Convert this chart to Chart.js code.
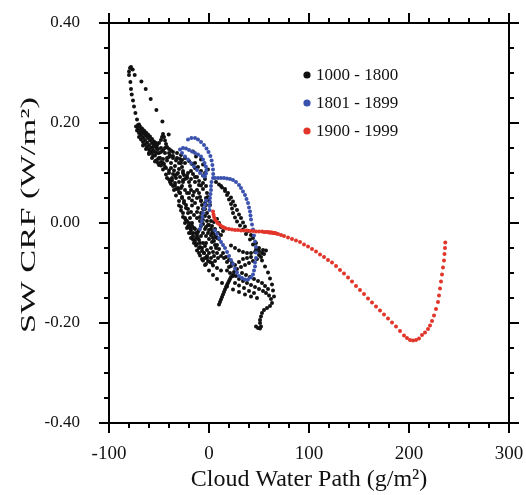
<!DOCTYPE html>
<html>
<head>
<meta charset="utf-8">
<script src="https://cdn.jsdelivr.net/npm/chart.js@4/dist/chart.umd.min.js"></script>
<style>
  html, body { margin: 0; padding: 0; background: #ffffff; }
  #wrap { width: 526px; height: 495px; }
</style>
</head>
<body>
<div id="wrap"><canvas id="crfChart"></canvas></div>
<script>
// Series labels
const seriesLabels = ['1000 - 1800', '1801 - 1899', '1900 - 1999'];

// Axis tick labels
const xTicks = [-100, 0, 100, 200, 300];
const yTicks = [-0.40, -0.20, 0.00, 0.20, 0.40];

// 1000-1800 (Cloud Water Path, SW CRF)
const blackPts = [
  // top loop, left side
  [-78, 0.312], [-79, 0.31], [-80, 0.303], [-80, 0.296], [-78.6, 0.282], [-78, 0.268], [-77.3, 0.257],
  [-76, 0.245], [-75, 0.233], [-73.6, 0.22], [-72, 0.207], [-70, 0.197],
  // top loop, right side
  [-76.3, 0.307], [-74.3, 0.296], [-67.6, 0.283], [-63.3, 0.268], [-58.3, 0.248], [-52.6, 0.226],
  [-46.6, 0.203], [-40.3, 0.177],
  // dense band
  [-73, 0.193], [-71, 0.19], [-69, 0.186], [-67, 0.182], [-65, 0.178], [-63, 0.174], [-61, 0.17],
  [-59, 0.165], [-57, 0.16], [-55, 0.156], [-53, 0.152], [-51, 0.148],
  [-71, 0.196], [-69, 0.193], [-67, 0.189], [-65, 0.185], [-63, 0.181], [-61, 0.177], [-59, 0.173],
  [-57, 0.168], [-55, 0.163], [-53, 0.16],
  [-72, 0.185], [-70, 0.18], [-68, 0.176], [-66, 0.171], [-64, 0.166], [-62, 0.161], [-60, 0.156],
  [-58, 0.151], [-56, 0.146], [-54, 0.142],
  [-70, 0.172], [-68, 0.167], [-66, 0.162], [-64, 0.157], [-62, 0.152], [-60, 0.147], [-58, 0.142],
  [-66, 0.155], [-63, 0.148], [-60, 0.14], [-57, 0.14], [-54, 0.135], [-51, 0.128], [-48, 0.122],
  // star
  [-52, 0.155], [-50, 0.16], [-48, 0.166], [-47, 0.172], [-46, 0.178], [-45, 0.172], [-44, 0.165],
  [-43, 0.158], [-42, 0.152], [-40, 0.148], [-38, 0.145], [-44, 0.15], [-46, 0.145], [-48, 0.142], [-50, 0.14],
  [-56, 0.152], [-52, 0.148], [-48, 0.15], [-44, 0.14], [-40, 0.132], [-36, 0.134], [-32, 0.13], [-29, 0.128],
  // outer left edge
  [-59, 0.143], [-56, 0.134], [-53, 0.125], [-50, 0.116], [-46, 0.107], [-43, 0.097], [-40, 0.087],
  [-38, 0.078], [-35, 0.066], [-33, 0.055], [-30, 0.044], [-28, 0.032], [-26, 0.02], [-23.5, 0.007],
  [-21, -0.007], [-18.5, -0.02], [-16, -0.033], [-13, -0.045], [-10, -0.06], [-7, -0.072], [-4, -0.084],
  [0, -0.095], [4, -0.104], [8, -0.112], [13, -0.12], [18, -0.127], [24, -0.133], [30, -0.138],
  [36, -0.143], [42, -0.147], [48, -0.15],
  // inner edge
  [-52, 0.14], [-49, 0.13], [-46, 0.12], [-43, 0.11], [-40, 0.1], [-37, 0.09], [-34, 0.08], [-31, 0.07],
  [-29, 0.06], [-27, 0.05], [-25, 0.04], [-23, 0.03], [-21, 0.02], [-19, 0.01], [-17, 0.0], [-15, -0.01],
  [-13, -0.02], [-11, -0.03], [-9, -0.04], [-7, -0.05], [-5, -0.06], [-2, -0.07], [1, -0.078],
  [4, -0.085], [8, -0.09], [12, -0.095],
  // middle cluster
  [-40, 0.14], [-36, 0.142], [-32, 0.14], [-28, 0.136], [-24, 0.13], [-20, 0.124], [-17, 0.118], [-14, 0.11],
  [-60, 0.138], [-57, 0.13], [-54, 0.123], [-51, 0.12], [-48, 0.115], [-45, 0.118], [-42, 0.13],
  [-39, 0.135], [-36, 0.13], [-33, 0.125], [-30, 0.12], [-27, 0.126], [-24, 0.12],
  [-50, 0.13], [-46, 0.128], [-42, 0.125], [-38, 0.12], [-34, 0.114], [-30, 0.108], [-26, 0.1],
  [-22, 0.094], [-18, 0.088], [-14, 0.082], [-10, 0.076],
  [-38, 0.11], [-35, 0.105], [-32, 0.098], [-29, 0.092], [-26, 0.086], [-31, 0.1], [-34, 0.095], [-37, 0.085],
  [-44, 0.112], [-40, 0.105], [-36, 0.098], [-33, 0.09], [-30, 0.082], [-27, 0.074], [-24, 0.066],
  [-20, 0.06], [-16, 0.055], [-12, 0.05], [-8, 0.045], [-4, 0.04],
  [-42, 0.09], [-39, 0.082], [-36, 0.074], [-33, 0.068], [-30, 0.062], [-28, 0.07], [-26, 0.082],
  [-24, 0.088], [-21, 0.1], [-18, 0.104], [-16, 0.098], [-14, 0.092],
  [-28, 0.12], [-27, 0.112], [-26, 0.104], [-25, 0.096], [-22, 0.09], [-20, 0.082], [-19, 0.074],
  [-18, 0.066], [-15, 0.062], [-12, 0.066], [-10, 0.06], [-9, 0.052], [-8, 0.044], [-7, 0.036], [-6, 0.028],
  [-34, 0.075], [-31, 0.068], [-29, 0.06], [-27, 0.052], [-25, 0.044], [-23, 0.036], [-21, 0.028],
  [-18, 0.022], [-15, 0.016], [-12, 0.01], [-9, 0.004], [-6, -0.002], [-3, -0.008], [0, -0.014], [3, -0.02],
  [-30, 0.035], [-28, 0.025], [-26, 0.012], [-24, 0.0], [-22, -0.01], [-20, -0.02], [-18, -0.03],
  [-15, -0.04], [-12, -0.055], [-9, -0.065], [-6, -0.075], [-3, -0.082],
  [-24, 0.01], [-22, 0.004], [-20, -0.004], [-18, -0.014], [-16, -0.026], [-14, -0.036], [-12, -0.024],
  [-10, -0.014], [-8, -0.006], [-6, 0.006], [-4, 0.014], [-2, 0.004], [0, -0.004], [2, -0.012],
  [4, -0.018], [6, -0.024], [8, -0.03],
  [-2, 0.06], [-1, 0.052], [0, 0.044], [-3, 0.036], [-4, 0.028], [-2, 0.02], [0, 0.012], [2, 0.004],
  [-1, -0.004], [-4, -0.012], [-6, -0.02], [-3, -0.026], [0, -0.032], [3, -0.038], [6, -0.044],
  [2, -0.05], [-2, -0.054], [-5, -0.06], [-2, -0.066], [2, -0.07], [5, -0.066], [8, -0.06], [10, -0.052],
  [8, -0.044], [5, -0.036], [7, -0.028], [9, -0.02], [6, -0.012], [3, -0.006], [5, 0.002], [8, 0.008],
  [10, 0.0], [12, -0.008], [14, -0.016], [12, -0.024], [10, -0.032],
  [-3, 0.05], [1, 0.036], [-8, 0.02], [-11, 0.03], [-14, 0.04], [-17, 0.045], [-20, 0.05], [-22, 0.06],
  [-17, 0.035], [-12, 0.022], [-9, 0.012], [4, -0.03], [7, -0.05], [4, -0.058], [0, -0.06], [-3, -0.04],
  [-1, -0.02], [2, -0.025],
  [-20, 0.0], [-17, -0.006], [-14, -0.012], [-11, -0.018], [-8, -0.026], [-10, -0.034], [-12, -0.042],
  [-9, -0.048], [-6, -0.04], [-4, -0.046], [-7, -0.056], [-10, -0.05], [-13, -0.03], [-16, -0.02], [-19, -0.01],
  [-4, -0.07], [-1, -0.076], [3, -0.08], [6, -0.076], [9, -0.07], [12, -0.066], [15, -0.07], [18, -0.078],
  [22, -0.086], [26, -0.084], [30, -0.078], [34, -0.072], [38, -0.07], [42, -0.068],
  [-16, 0.143], [-13, 0.133], [-8, 0.127], [-6, 0.117], [-1, 0.107], [-4, 0.1], [-8, 0.104], [-11, 0.112], [-14, 0.12],
  [-6, 0.095], [-4, 0.088], [-6, 0.08], [-3, 0.074], [-6, 0.068], [-8, 0.075], [-10, 0.084], [-12, 0.092],
  // dotted curves to the lower right
  [7, 0.082], [10, 0.077], [13, 0.071], [16, 0.064], [18, 0.056], [20, 0.047], [22, 0.038], [23, 0.029],
  [24, 0.02], [26, 0.011], [28, 0.003], [31, -0.005], [34, -0.013], [37, -0.022], [41, -0.033],
  [44, -0.043], [47, -0.053], [50, -0.064], [53, -0.075], [56, -0.087], [59, -0.099], [61, -0.111],
  [63, -0.123], [64, -0.135], [65, -0.147],
  [12, 0.074], [16, 0.068], [19, 0.06], [22, 0.051], [24, 0.043], [26, 0.035], [28, 0.026], [30, 0.017],
  [32, 0.01], [34, 0.001], [36, -0.007], [39, -0.016], [42, -0.024], [44, -0.03], [47, -0.04],
  [50, -0.05], [53, -0.06],
  // lower right tangle and hook
  [22, -0.045], [26, -0.05], [30, -0.055], [34, -0.058], [38, -0.06], [42, -0.06], [46, -0.058],
  [50, -0.056], [54, -0.054], [57, -0.055], [55, -0.062], [52, -0.068], [48, -0.072], [44, -0.076],
  [40, -0.08], [36, -0.084], [32, -0.088], [28, -0.092], [25, -0.098], [27, -0.106], [30, -0.112],
  [34, -0.116], [38, -0.12], [42, -0.124], [46, -0.128], [50, -0.132], [54, -0.136], [57, -0.14],
  [60, -0.145], [62, -0.152], [63, -0.16], [61, -0.166], [58, -0.17], [55, -0.174], [53, -0.18],
  [52, -0.187], [51, -0.194], [51, -0.2], [52, -0.207], [51, -0.211], [49, -0.21], [47, -0.207],
  [33, -0.1], [37, -0.104], [41, -0.108], [45, -0.112], [49, -0.116], [53, -0.12], [56, -0.126],
  [59, -0.132], [45, -0.14], [40, -0.136], [35, -0.13], [30, -0.125], [26, -0.12],
  [14, -0.06], [17, -0.068], [20, -0.074], [23, -0.08], [20, -0.088], [18, -0.095], [21, -0.1], [24, -0.106],
  // short dense stroke
  [10, -0.163], [11, -0.158], [12, -0.153], [13, -0.148], [14, -0.143], [15, -0.138], [16, -0.133],
  [17, -0.128], [18, -0.124], [19, -0.12], [20, -0.116], [21, -0.112], [22, -0.108], [24, -0.104]
];

// 1801-1899
const bluePts = [
  [-21, 0.167], [-17.6, 0.17], [-14, 0.17], [-11, 0.167], [-8, 0.162], [-5, 0.156], [-2.5, 0.149],
  [-0.5, 0.142], [1.4, 0.134], [2.6, 0.125], [3.4, 0.116], [4, 0.107], [4.2, 0.098], [4, 0.09],
  [-29, 0.147], [-26, 0.15], [-23, 0.149], [-20, 0.146], [-17, 0.143], [-14, 0.14], [-11, 0.137],
  [-8, 0.133], [-6, 0.127], [-4.5, 0.12], [-3.2, 0.113], [-2.6, 0.106], [-3, 0.099], [-4, 0.093],
  [-27, 0.14], [-24, 0.133], [-21, 0.127], [-18, 0.12], [-15, 0.113], [-12, 0.106], [-9, 0.1], [-6, 0.095],
  [6, 0.09], [9, 0.09], [12, 0.09], [15, 0.09], [18, 0.089], [21, 0.088], [24, 0.086], [27, 0.082],
  [30, 0.076], [32, 0.07], [34, 0.063], [36, 0.056], [37.5, 0.048], [39, 0.04], [40, 0.031], [41, 0.023],
  [41.5, 0.015], [42, 0.007], [43, -0.003], [44, -0.013], [45, -0.025], [46, -0.037], [47, -0.048],
  [47, -0.059], [47, -0.07], [46, -0.079], [46, -0.087], [45, -0.095], [44, -0.103], [42, -0.109],
  [39, -0.113], [36, -0.113], [33, -0.11], [30, -0.106], [28, -0.099], [26, -0.091], [24, -0.082],
  [22, -0.074], [20, -0.066], [18, -0.058], [16, -0.05], [14, -0.044], [12, -0.038],
  [2.5, 0.082], [2, 0.074], [2, 0.066], [1.5, 0.058], [1, 0.05], [1, 0.042], [0.5, 0.034], [0.5, 0.026],
  [-3, 0.045], [-4, 0.037], [-5, 0.029], [-6, 0.02], [-6.5, 0.012], [-7, 0.004], [-8, -0.004], [-9, -0.012],
  [10, -0.03], [8, -0.022], [6, -0.015]
];

// 1900-1999
const redPts = [
  [4, 0.023], [4.5, 0.017], [5, 0.012], [6, 0.007], [7.5, 0.003], [9, -0.001], [11, -0.004], [13, -0.007],
  [15, -0.009], [17, -0.011], [20, -0.012], [23, -0.013], [26, -0.014], [29, -0.014], [32, -0.015],
  [35, -0.015], [38, -0.015], [41, -0.016], [44, -0.016], [47, -0.017], [50, -0.017], [53, -0.017],
  [55, -0.018], [57, -0.018], [59, -0.018], [60, -0.019], [61, -0.019], [62, -0.019], [63, -0.019],
  [64, -0.02], [65, -0.02], [66, -0.02], [67, -0.021], [69, -0.022], [72, -0.024], [75, -0.026],
  [79, -0.029], [83, -0.032], [87, -0.035], [91, -0.038], [95, -0.043], [99, -0.047], [103, -0.052],
  [107, -0.057], [111, -0.063], [115, -0.068], [119, -0.074], [123, -0.079], [127, -0.086], [131, -0.094],
  [135, -0.101], [139, -0.109], [143, -0.117], [147, -0.126], [151, -0.134], [155, -0.142], [159, -0.151],
  [163, -0.159], [167, -0.167], [171, -0.175], [175, -0.183], [179, -0.191], [183, -0.199], [187, -0.207],
  [191, -0.216], [195, -0.225], [198, -0.23], [201, -0.234], [204, -0.235], [207, -0.234], [210, -0.231],
  [213, -0.224], [216, -0.219], [219, -0.212], [221, -0.205], [223, -0.196], [225, -0.185], [227, -0.172],
  [229, -0.158], [230, -0.145], [231, -0.131], [232, -0.117], [233, -0.103], [234, -0.089], [235, -0.075],
  [235.5, -0.062], [236, -0.05], [236.3, -0.039]
];

const seriesColors = ['#111111', '#3a52ad', '#e2352a'];
const serif = '"Liberation Serif", "Times New Roman", serif';

const toXY = pts => pts.map(p => ({ x: p[0], y: p[1] }));

// frame with outward major and minor ticks on all four sides
const frameTicks = {
  id: 'frameTicks',
  afterDatasetsDraw(chart) {
    const { ctx, chartArea: a, scales: { x, y } } = chart;
    ctx.save();
    ctx.strokeStyle = '#000';
    ctx.lineWidth = 2;
    ctx.strokeRect(a.left, a.top, a.right - a.left, a.bottom - a.top);
    ctx.beginPath();
    for (let v = x.min; v <= x.max + 0.001; v += 20) {
      const px = x.getPixelForValue(v);
      const len = Math.abs(v % 100) < 0.001 ? 10 : 5;
      ctx.moveTo(px, a.bottom); ctx.lineTo(px, a.bottom + len);
      ctx.moveTo(px, a.top); ctx.lineTo(px, a.top - len);
    }
    for (let i = 0; i <= 16; i++) {
      const v = y.min + i * 0.05;
      const py = y.getPixelForValue(v);
      const len = i % 4 === 0 ? 10 : 5;
      ctx.moveTo(a.left, py); ctx.lineTo(a.left - len, py);
      ctx.moveTo(a.right, py); ctx.lineTo(a.right + len, py);
    }
    ctx.stroke();
    ctx.restore();
  }
};

// legend inside the plot, upper right, and the tall y title
const extras = {
  id: 'extras',
  afterDraw(chart) {
    const { ctx, chartArea: a } = chart;
    ctx.save();
    ctx.font = '17px ' + serif;
    ctx.textBaseline = 'middle';
    seriesLabels.forEach((label, i) => {
      const cx = a.left + 198;
      const cy = a.top + 52 + i * 28;
      ctx.fillStyle = seriesColors[i];
      ctx.beginPath();
      ctx.arc(cx, cy, 3.6, 0, Math.PI * 2);
      ctx.fill();
      ctx.fillStyle = '#111';
      ctx.fillText(label, cx + 9, cy + 1);
    });
    ctx.restore();

    // y title, stretched along its length like the reference
    ctx.save();
    ctx.font = '22px ' + serif;
    ctx.fillStyle = '#111';
    ctx.textAlign = 'center';
    ctx.textBaseline = 'middle';
    const text = 'SW CRF (W/m²)';
    const w = ctx.measureText(text).width;
    ctx.translate(29, (a.top + a.bottom) / 2 - 8);
    ctx.rotate(-Math.PI / 2);
    ctx.scale(236 / w, 1);
    ctx.fillText(text, 0, 0);
    ctx.restore();
  }
};

const ctx = document.getElementById('crfChart');

new Chart(ctx, {
  type: 'scatter',
  data: {
    datasets: [
      { label: seriesLabels[0], data: toXY(blackPts), backgroundColor: seriesColors[0], order: 3 },
      { label: seriesLabels[1], data: toXY(bluePts), backgroundColor: seriesColors[1], order: 2 },
      { label: seriesLabels[2], data: toXY(redPts), backgroundColor: seriesColors[2], order: 1 }
    ]
  },
  options: {
    responsive: true,
    maintainAspectRatio: false,
    animation: false,
    layout: { padding: { top: 23, right: 17, left: 0, bottom: 0 } },
    elements: {
      point: { radius: 2, borderWidth: 0, hoverRadius: 2 }
    },
    plugins: {
      legend: { display: false },
      tooltip: { enabled: false }
    },
    scales: {
      x: {
        type: 'linear',
        min: xTicks[0],
        max: xTicks[xTicks.length - 1],
        afterFit: s => { s.height = 72; s.paddingLeft = 0; s.paddingRight = 0; },
        afterBuildTicks: s => { s.ticks = xTicks.map(v => ({ value: v })); },
        grid: { display: false, drawTicks: false },
        border: { display: false },
        ticks: {
          color: '#111',
          padding: 20,
          font: { family: serif, size: 19 },
          callback: v => String(v)
        },
        title: {
          display: true,
          text: 'Cloud Water Path (g/m²)',
          color: '#111',
          padding: { top: 0, bottom: 1 },
          font: { family: serif, size: 24 }
        }
      },
      y: {
        type: 'linear',
        min: yTicks[0],
        max: yTicks[yTicks.length - 1],
        afterFit: s => { s.width = 109; s.paddingTop = 0; s.paddingBottom = 0; },
        afterBuildTicks: s => { s.ticks = yTicks.map(v => ({ value: v })); },
        grid: { display: false, drawTicks: false },
        border: { display: false },
        ticks: {
          color: '#111',
          padding: 29,
          font: { family: serif, size: 17 },
          callback: v => Number(v).toFixed(2)
        },
        title: { display: false }
      }
    }
  },
  plugins: [frameTicks, extras]
});
</script>
</body>
</html>
